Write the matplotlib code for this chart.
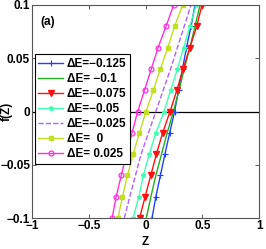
import numpy as np
import matplotlib
matplotlib.use('Agg')
import matplotlib.pyplot as plt

f_vals = [-0.1, -0.08, -0.06, -0.04, -0.02, 0.0, 0.02, 0.04, 0.06, 0.08, 0.1]
z_m0125 = [0.056, 0.09, 0.13, 0.17, 0.212, 0.255, 0.29, 0.325, 0.36, 0.40, 0.435]
z_m01 = [0.006, 0.046, 0.09, 0.14, 0.19, 0.245, 0.295, 0.34, 0.39, 0.435, 0.48]
z_m0075 = [-0.053, -0.005, 0.045, 0.095, 0.15, 0.215, 0.275, 0.33, 0.39, 0.45, 0.497]
z_m005 = [-0.111, -0.06, -0.02, 0.032, 0.09, 0.162, 0.22, 0.28, 0.335, 0.39, 0.445]
z_m0025 = [-0.188, -0.14, -0.09, -0.04, 0.025, 0.09, 0.155, 0.22, 0.28, 0.34, 0.40]
z_0 = [-0.243, -0.205, -0.16, -0.11, -0.055, 0.003, 0.068, 0.13, 0.195, 0.255, 0.326]
z_p0025 = [-0.296, -0.26, -0.215, -0.17, -0.12, -0.07, -0.01, 0.05, 0.11, 0.18, 0.247]

labels = ['ΔE=\u22120.125', 'ΔE= \u22120.1', 'ΔE=\u22120.075', 'ΔE=\u22120.05',
          'ΔE=\u22120.025', 'ΔE=  0', 'ΔE= 0.025']

plt.rcParams['font.family'] = ['Liberation Sans', 'DejaVu Sans']
plt.rcParams['font.weight'] = 'bold'
plt.rcParams['font.size'] = 8.5

fig = plt.figure(figsize=(2.66, 2.49), dpi=100)
ax = fig.add_axes([0.121, 0.124, 0.853, 0.856])

ax.axhline(0, color='black', lw=0.9)

ax.plot(z_m0125, f_vals, '-', color='#2040ff', marker='+', ms=4, mew=0.8, lw=1.0, label=labels[0])
ax.plot(z_m01, f_vals, '-', color='#20b020', lw=1.0, label=labels[1])
ax.plot(z_m0075, f_vals, '-', color='#ff1010', marker='v', ms=4.5, lw=1.0, label=labels[2])
ax.plot(z_m005, f_vals, '-', color='#40ffb0', marker='*', ms=3.5, lw=1.0, label=labels[3])
ax.plot(z_m0025, f_vals, '--', color='#b060ff', lw=1.0, label=labels[4])
ax.plot(z_0, f_vals, '-', color='#c0e020', marker='s', ms=3, lw=1.0, label=labels[5])
ax.plot(z_p0025, f_vals, '-', color='#ff30e0', marker='o', ms=3.5, mfc='none', mew=0.9,
        lw=1.0, label=labels[6])

ax.set_xlim(-1, 1)
ax.set_ylim(-0.1, 0.1)
ax.set_xticks([-1, -0.5, 0, 0.5, 1])
ax.set_xticklabels(['\u22121', '\u22120.5', '0', '0.5', '1'])
ax.set_yticks([-0.1, -0.05, 0, 0.05, 0.1])
ax.set_yticklabels(['\u22120.1', '\u22120.05', '0', '0.05', '0.1'])
ax.tick_params(direction='in', length=3, width=0.6, top=True, right=True, pad=1.5,
               labelsize=8.5, color='#444444')
for s in ax.spines.values():
    s.set_color('#555555')
    s.set_linewidth(0.8)

ax.set_xlabel('Z', fontweight='bold')
ax.xaxis.set_label_coords(0.5, -0.085)
ax.set_ylabel('f(Z)', fontweight='bold')
ax.yaxis.set_label_coords(-0.086, 0.5)
ax.text(0.035, 0.95, '(a)', transform=ax.transAxes, fontweight='bold', va='top')

leg = ax.legend(loc='upper left', bbox_to_anchor=(0.012, 0.768), borderaxespad=0,
                fancybox=False, edgecolor='black', framealpha=1,
                handlelength=2.1, handletextpad=0.3, labelspacing=0.26,
                borderpad=0.3, prop={'weight': 'bold', 'size': 8.5})
leg.get_frame().set_linewidth(0.8)

fig.savefig('out.png', dpi=100)
